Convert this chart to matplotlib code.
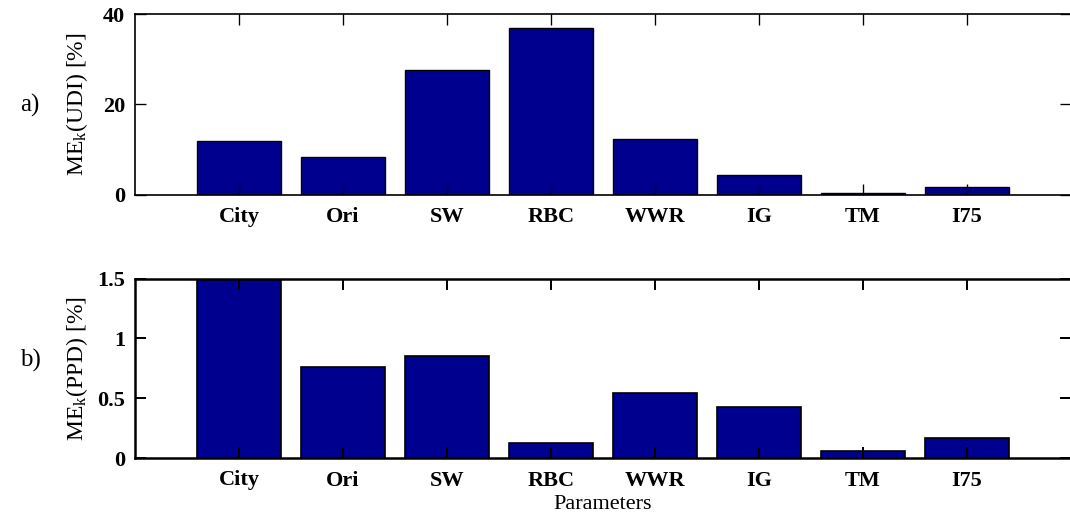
import matplotlib
matplotlib.use("Agg")
import matplotlib.pyplot as plt
import numpy as np

categories = ["City", "Ori", "SW", "RBC", "WWR", "IG", "TM", "I75"]
udi_values = [11.9, 8.3, 27.7, 36.8, 12.3, 4.3, 0.27, 1.6]
ppd_values = [1.5, 0.76, 0.85, 0.125, 0.545, 0.43, 0.06, 0.165]
udi_ticks = [0, 20, 40]
ppd_ticks = [0, 0.5, 1, 1.5]

plt.rcParams["font.family"] = ["Liberation Serif", "DejaVu Serif"]
plt.rcParams["mathtext.fontset"] = "custom"
plt.rcParams["mathtext.rm"] = "Liberation Serif"
plt.rcParams["mathtext.it"] = "Liberation Serif:italic"
plt.rcParams["mathtext.bf"] = "Liberation Serif:bold"

W, H = 1070, 515
fig = plt.figure(figsize=(W / 100, H / 100), dpi=100)

bar_color = "#00008f"
x = np.arange(1, len(categories) + 1)
tick_fs = 16


def axes_px(left, top, right, bottom):
    return [left / W, 1 - bottom / H, (right - left) / W, (bottom - top) / H]


def style_axes(ax, lw):
    ax.set_xlim(0, len(categories) + 1)
    ax.set_xticks(x)
    ax.set_xticklabels(categories, fontsize=tick_fs, fontweight="bold")
    for s in ax.spines.values():
        s.set_linewidth(lw)
    ax.tick_params(direction="in", length=8, width=lw * 0.8,
                   top=True, right=True, pad=7)
    ax.tick_params(axis="x", pad=9)
    for lab in ax.get_yticklabels():
        lab.set_fontweight("bold")
        lab.set_fontsize(tick_fs)
    ax.yaxis.set_label_coords(-0.048, 0.5)


ax1 = fig.add_axes(axes_px(135, 14, 1071, 194.5))
ax1.bar(x, udi_values, width=0.8, color=bar_color, edgecolor="black", linewidth=1)
ax1.set_ylim(0, 40)
ax1.set_yticks(udi_ticks)
ax1.set_yticklabels([str(t) for t in udi_ticks])
ax1.set_ylabel(r"ME$_{\mathrm{k}}$(UDI) [%]", fontsize=17)
style_axes(ax1, 1.2)
fig.text(30 / W, 1 - 105 / H, "a)", fontsize=18, ha="center", va="center")

ax2 = fig.add_axes(axes_px(135, 278.5, 1071, 458))
ax2.bar(x, ppd_values, width=0.8, color=bar_color, edgecolor="black", linewidth=1.2)
ax2.set_ylim(0, 1.5)
ax2.set_yticks(ppd_ticks)
ax2.set_yticklabels(["0", "0.5", "1", "1.5"])
ax2.set_ylabel(r"ME$_{\mathrm{k}}$(PPD) [%]", fontsize=17)
style_axes(ax2, 1.8)
ax2.set_xlabel("Parameters", fontsize=16, labelpad=3)
fig.text(30 / W, 1 - 360 / H, "b)", fontsize=18, ha="center", va="center")

fig.savefig("out.png", dpi=100)
